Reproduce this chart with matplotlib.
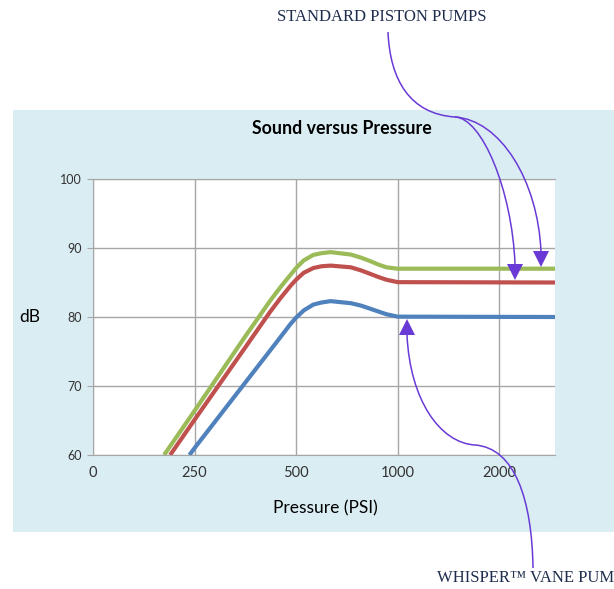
import matplotlib
matplotlib.use('Agg')
import matplotlib.pyplot as plt
from matplotlib.patches import Rectangle, PathPatch, Polygon
from matplotlib.path import Path
from matplotlib import transforms

# x tick labels (categories) and y ticks
pressure_labels = ['0', '250', '500', '1000', '2000']
db_ticks = [60, 70, 80, 90, 100]

# curve values (x in category positions)
green_x = [0.70, 1.0, 1.5, 1.742, 1.85, 1.95, 2.0, 2.075, 2.17, 2.25, 2.34, 2.54, 2.64, 2.73, 2.81, 2.89, 3.0, 4.55]
green_y = [60, 66.4, 77.2, 82.3, 84.4, 86.2, 87.1, 88.2, 89.0, 89.25, 89.4, 89.05, 88.6, 88.1, 87.6, 87.2, 87.0, 87.0]

red_x = [0.76, 1.0, 1.5, 1.742, 1.85, 1.95, 2.0, 2.075, 2.17, 2.25, 2.34, 2.54, 2.64, 2.73, 2.81, 2.89, 3.0, 4.55]
red_y = [60, 65.1, 75.6, 80.7, 82.8, 84.6, 85.4, 86.4, 87.1, 87.35, 87.45, 87.2, 86.75, 86.25, 85.8, 85.4, 85.05, 85.0]

blue_x = [0.95, 1.0, 1.5, 1.8, 1.946, 2.0, 2.075, 2.17, 2.25, 2.34, 2.54, 2.64, 2.73, 2.81, 2.89, 3.0, 4.55]
blue_y = [60, 61.0, 70.5, 76.2, 79.0, 79.9, 80.95, 81.8, 82.1, 82.3, 82.0, 81.65, 81.2, 80.8, 80.4, 80.05, 80.0]

W, H = 614, 589
fig = plt.figure(figsize=(W / 100, H / 100), dpi=100)
plt.rcParams['font.family'] = ['Lato', 'DejaVu Sans']

# light blue chart panel
fig.add_artist(Rectangle((13 / W, 1 - 532 / H), 601 / W, 422 / H,
                         transform=fig.transFigure, facecolor='#DAEDF3',
                         edgecolor='none', zorder=0))

ax = fig.add_axes([93 / W, 1 - 455 / H, 462 / W, 276 / H])
ax.set_facecolor('white')
ax.set_zorder(1)

ax.plot(green_x, green_y, color='#9BBB59', lw=3, solid_capstyle='butt', solid_joinstyle='round', zorder=3)
ax.plot(red_x, red_y, color='#C0504D', lw=3, solid_capstyle='butt', solid_joinstyle='round', zorder=3)
ax.plot(blue_x, blue_y, color='#4F81BD', lw=3, solid_capstyle='butt', solid_joinstyle='round', zorder=3)

ax.set_xlim(0, 4.55)
ax.set_ylim(60, 100)
ax.set_xticks(range(len(pressure_labels)))
ax.set_xticklabels(pressure_labels)
ax.set_yticks(db_ticks)
ax.grid(True, color='#A6A6A6', lw=1)
ax.set_axisbelow(True)
ax.spines['right'].set_visible(False)
for s in ['left', 'bottom', 'top']:
    ax.spines[s].set_color('#A6A6A6')
ax.tick_params(axis='x', length=0, pad=8, labelsize=10.5, labelcolor='#333333')
ax.tick_params(axis='y', length=4, color='#A6A6A6', pad=4, labelsize=9, labelcolor='#333333')

fig.text(342 / W, 1 - 129 / H, 'Sound versus Pressure', ha='center', va='center',
         fontsize=12.8, fontweight='bold', color='black')
fig.text(30 / W, 1 - 317 / H, 'dB', ha='center', va='center', fontsize=12.5, color='black')
fig.text(325 / W, 1 - 508 / H, 'Pressure (PSI)', ha='center', va='center',
         fontsize=12.5, color='black')

# annotations, in pixel coords measured from top-left
px = transforms.Affine2D().scale(1 / W, -1 / H).translate(0, 1) + fig.transFigure
acol = '#6A3AD6'
C = Path.CURVE4
curves = [
    [(388, 32), (390, 80), (410, 114), (455, 117)],
    [(455, 117), (482, 118), (512, 190), (515, 264)],
    [(455, 117), (500, 120), (538, 180), (541, 252)],
    [(533, 568), (532, 500), (515, 448), (475, 445)],
    [(475, 445), (440, 443), (410, 400), (407, 335)],
]
for c in curves:
    p = Path(c, [Path.MOVETO, C, C, C])
    fig.add_artist(PathPatch(p, facecolor='none', edgecolor=acol, lw=1.1,
                             transform=px, zorder=5))
heads = [
    [(507, 264), (523, 264), (515, 280)],
    [(533, 251), (549, 251), (541, 267)],
    [(399, 335), (415, 335), (407, 319)],
]
for h in heads:
    fig.add_artist(Polygon(h, closed=True, facecolor=acol, edgecolor='none',
                           transform=px, zorder=6))

fig.text(277 / W, 1 - 17 / H, 'STANDARD PISTON PUMPS', ha='left', va='center',
         fontsize=12, family=['Liberation Serif', 'DejaVu Serif'], color='#1F2D4D')
fig.text(437 / W, 1 - 578 / H, 'WHISPER™ VANE PUM', ha='left', va='center',
         fontsize=12, family=['Liberation Serif', 'DejaVu Serif'], color='#1F2D4D')

fig.savefig('out.png', dpi=100)
